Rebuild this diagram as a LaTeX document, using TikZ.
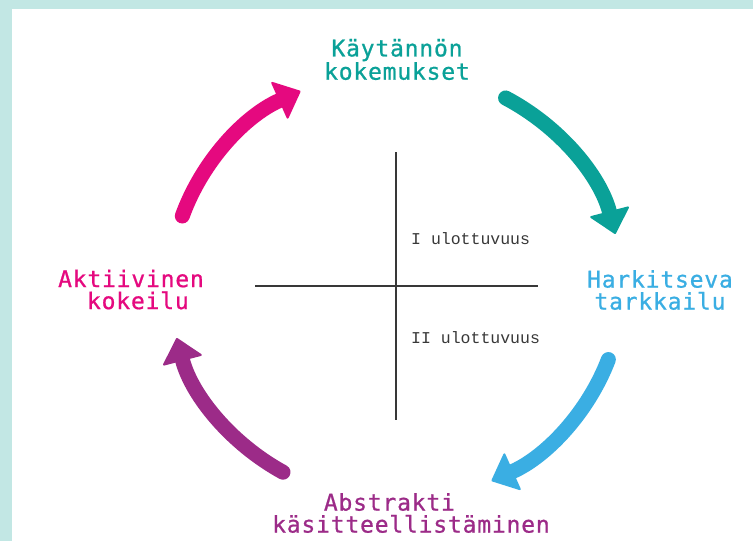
\documentclass[tikz,border=0pt]{standalone}
\usepackage{fontspec}
\usetikzlibrary{arrows.meta,calc}
\newfontfamily\stagefont{DejaVu Sans Mono}[LetterSpace=3.5, FakeBold=0.8]
\newfontfamily\dimfont{Liberation Mono}
\definecolor{frameteal}{HTML}{C2E7E4}
\definecolor{cycteal}{HTML}{0AA198}
\definecolor{cycblue}{HTML}{3AAEE3}
\definecolor{cycpurple}{HTML}{9C2B88}
\definecolor{cycpink}{HTML}{E5097F}
\definecolor{axisgray}{HTML}{383838}
\begin{document}
\begin{tikzpicture}[
        x=1pt, y=1pt,
        stage/.style={align=center, inner sep=0pt, font={\stagefont\fontsize{23}{22}\selectfont}},
        dimlabel/.style={anchor=base west, inner sep=0pt, text=axisgray, font={\dimfont\fontsize{16.5}{16.5}\selectfont}},
        axisline/.style={draw=axisgray, line width=1.5pt},
        looparrow/.style={line width=15pt, line cap=round, -{Triangle[width=42pt, length=24pt, line width=2pt, round]}},
    ]
    \useasboundingbox (0, 0) rectangle (753, -541);
    \fill[frameteal] (0, 0) rectangle (753, -541);
    \fill[white] (11.5, -9) rectangle (753, -541);
    % stages
    \node[stage, text=cycteal] (practice) at (397, -59.5) {Käytännön\\kokemukset};
    \node[stage, text=cycblue] (reflect) at (660, -290) {Harkitseva\\tarkkailu};
    \node[stage, text=cycpurple] (abstract) at (411, -513) {Abstrakti\phantom{xxx}\\käsitteellistäminen};
    \node[stage, text=cycpink] (active) at (131, -289.5) {Aktiivinen\\\phantom{x}kokeilu};
    % dimensions
    \coordinate (hub) at (396, -286);
    \coordinate (axtop) at (396, -152);
    \coordinate (axbot) at (396, -420);
    \coordinate (axleft) at (255, -286);
    \coordinate (axright) at (538, -286);
    \draw[axisline] (axtop) -- (axbot);
    \draw[axisline] (axleft) -- (axright);
    \node[dimlabel] (dimone) at (411, -244.3) {I ulottuvuus};
    \node[dimlabel] (dimtwo) at (411, -343.3) {II ulottuvuus};
    % cycle
    \draw[looparrow, cycteal] (hub) ++(61:226pt and 215pt) arc[start angle=61, end angle=14, x radius=226pt, y radius=215pt];
    \draw[looparrow, cycblue] (hub) ++(-20:226pt and 215pt) arc[start angle=-20, end angle=-65, x radius=226pt, y radius=215pt];
    \draw[looparrow, cycpurple] (hub) ++(240:226pt and 215pt) arc[start angle=240, end angle=194, x radius=226pt, y radius=215pt];
    \draw[looparrow, cycpink] (hub) ++(161:226pt and 215pt) arc[start angle=161, end angle=115, x radius=226pt, y radius=215pt];
\end{tikzpicture}
\end{document}
